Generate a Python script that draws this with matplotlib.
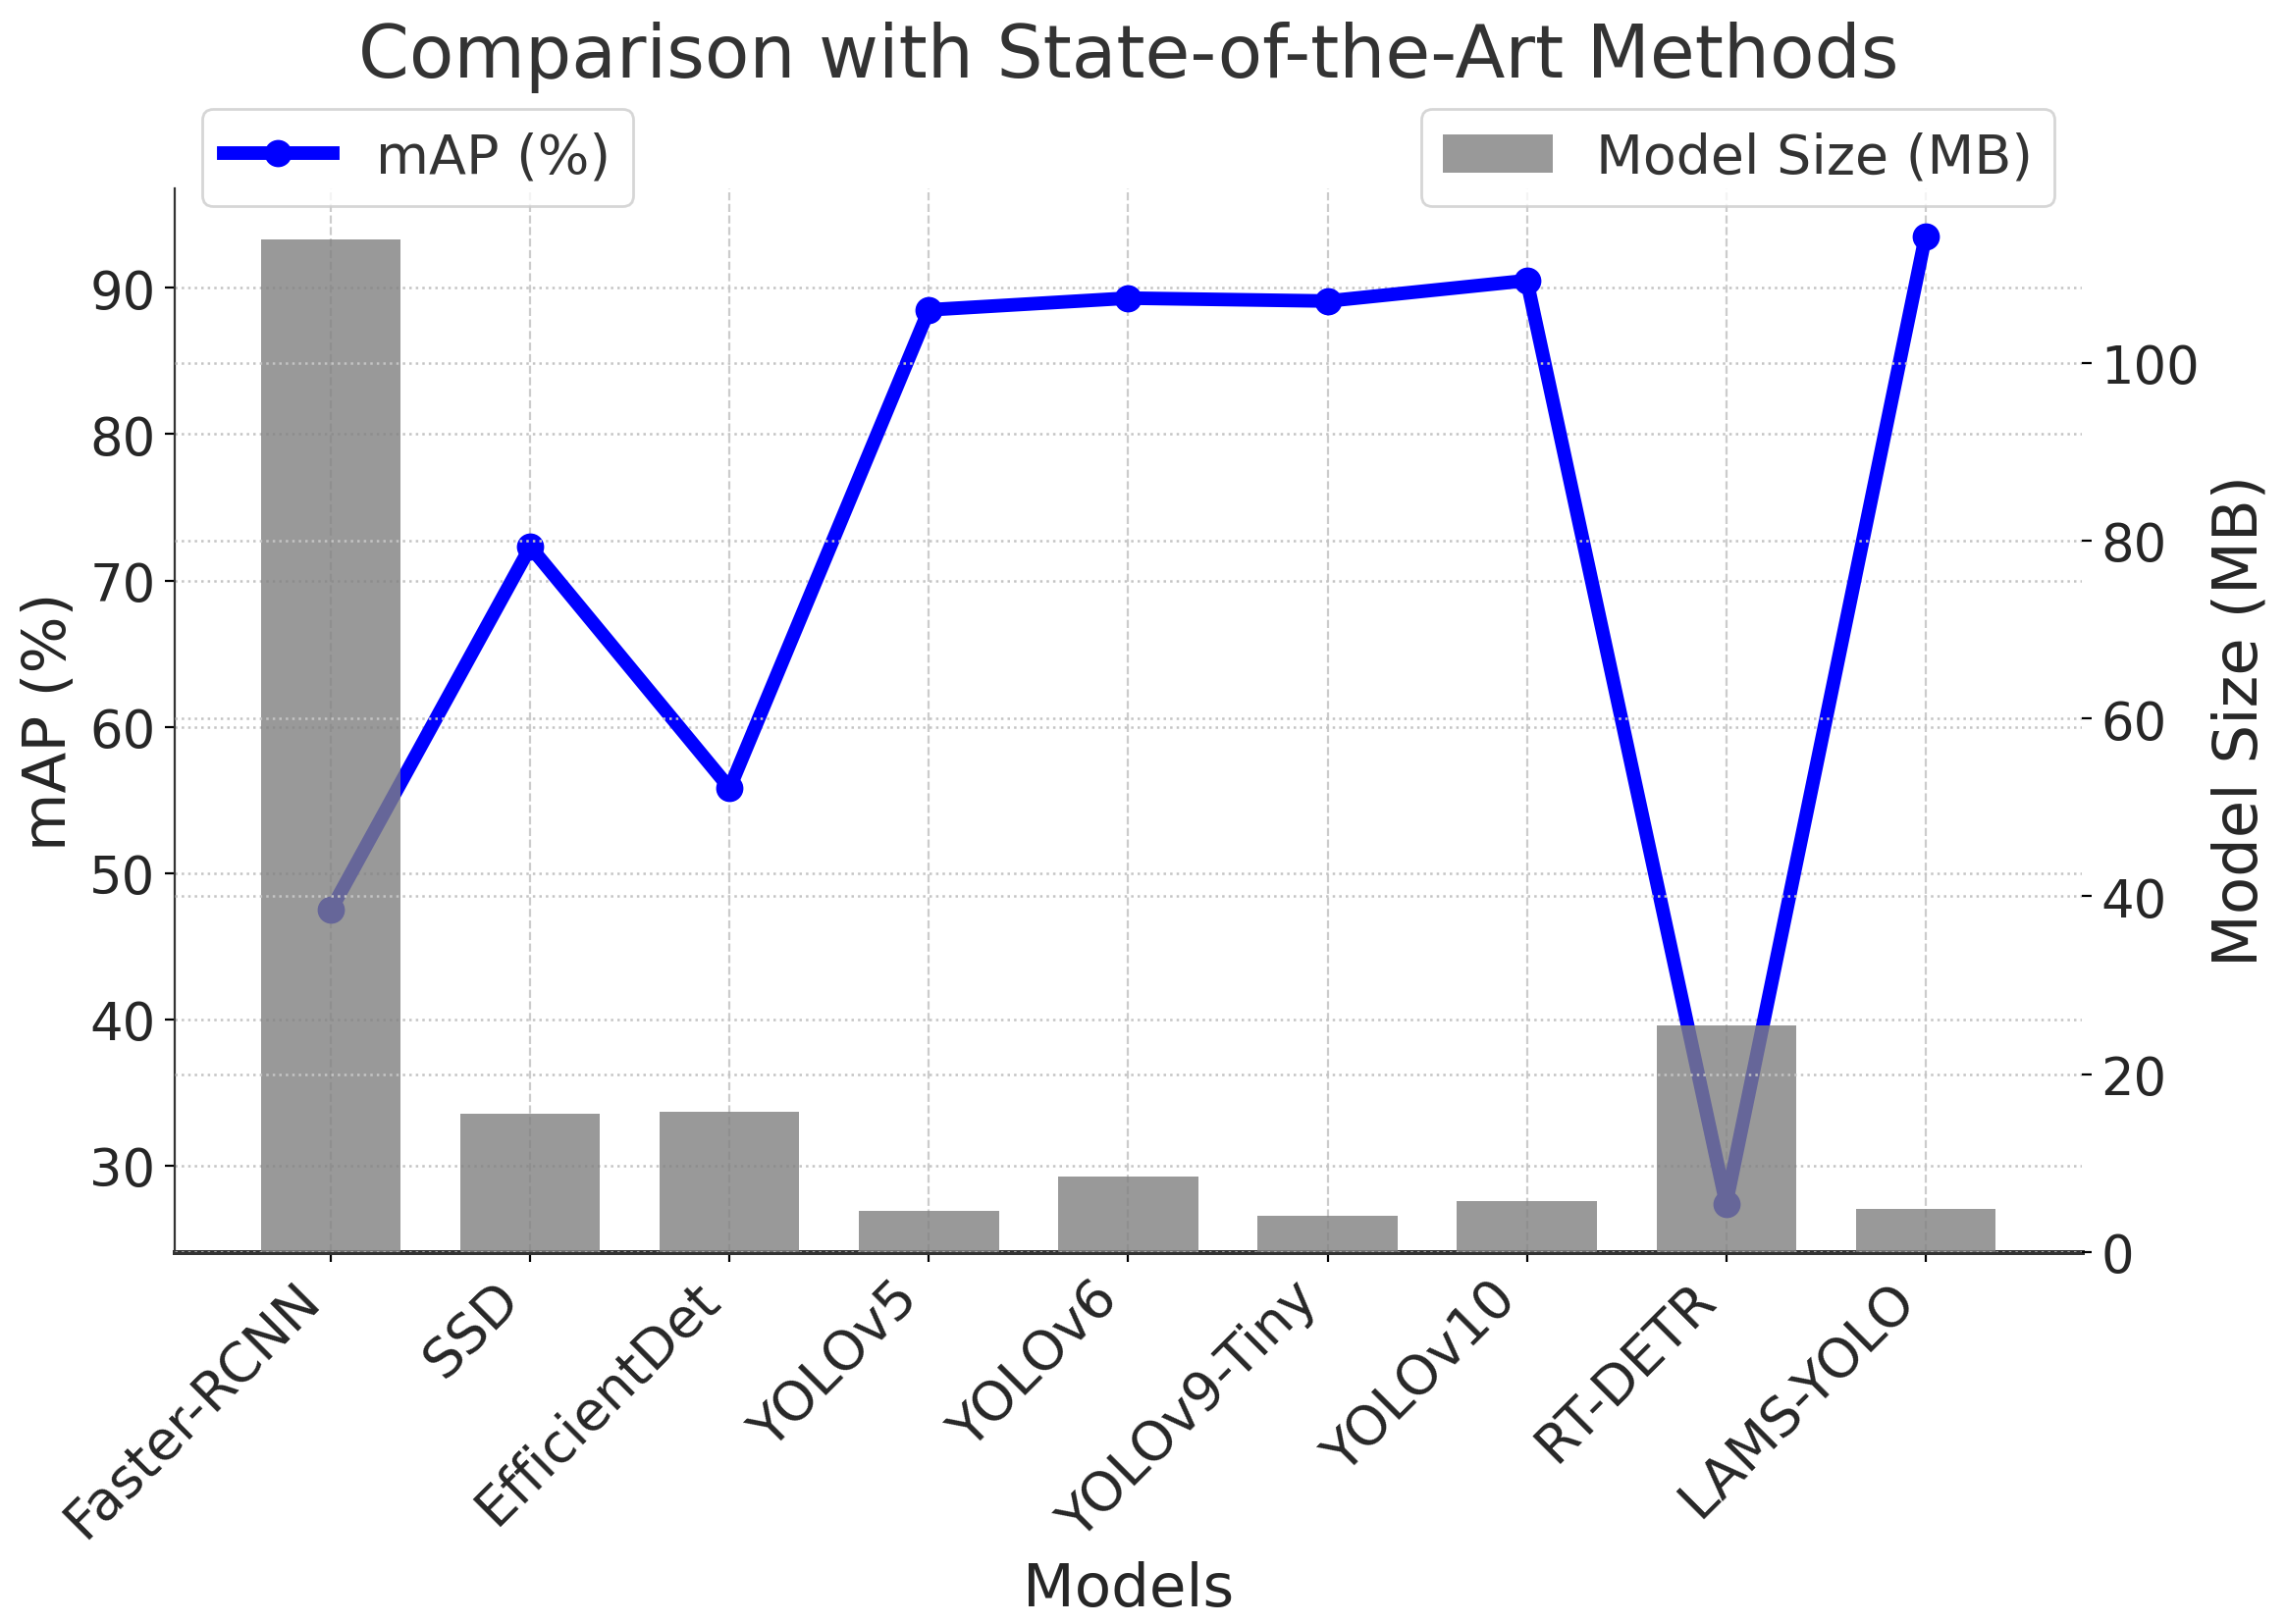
import numpy as np
import matplotlib
matplotlib.use('Agg')
import matplotlib.pyplot as plt

models = ['Faster-RCNN', 'SSD', 'EfficientDet', 'YOLOv5', 'YOLOv6',
          'YOLOv9-Tiny', 'YOLOv10', 'RT-DETR', 'LAMS-YOLO']
map_values = [47.5, 72.3, 55.8, 88.5, 89.3, 89.1, 90.5, 27.4, 93.5]
model_sizes = [113.9, 15.6, 15.8, 4.6, 8.5, 4.1, 5.7, 25.5, 4.9]

plt.rcParams['font.family'] = 'DejaVu Sans'
text_col = '#262626'

fig, ax1 = plt.subplots(figsize=(2329 / 200, 1656 / 200), dpi=200)
fig.subplots_adjust(left=0.0764, right=0.9107, top=0.8835, bottom=0.2289)

x = np.arange(len(models))

# mAP line on left axis
ax1.plot(x, map_values, color='blue', marker='o', linewidth=5, markersize=9,
         label='mAP (%)')
ax1.set_xlabel('Models', fontsize=22, color=text_col)
ax1.set_ylabel('mAP (%)', fontsize=22, color=text_col)
ax1.set_xticks(x)
ax1.set_xticklabels(models, rotation=45, ha='right', fontsize=20, color=text_col)
ax1.tick_params(axis='y', labelsize=19, labelcolor=text_col)
ax1.grid(True, axis='x', linestyle='--', color='#cccccc', linewidth=0.8)
ax1.grid(True, axis='y', linestyle=':', color='#c4c4c4', linewidth=0.9)

# model size bars on right axis, drawn over the line
ax2 = ax1.twinx()
ax2.bar(x, model_sizes, width=0.7, color='gray', alpha=0.8, label='Model Size (MB)')
ax2.set_ylabel('Model Size (MB)', fontsize=22.5, color=text_col)
ax2.tick_params(axis='y', labelsize=19, labelcolor=text_col)
ax2.grid(True, axis='y', linestyle=':', color='#c4c4c4', linewidth=0.9)

for ax in (ax1, ax2):
    ax.spines['top'].set_visible(False)
    ax.spines['right'].set_visible(False)
ax1.spines['bottom'].set_linewidth(1.8)
ax1.spines['bottom'].set_color('#333333')
ax1.spines['left'].set_color('#333333')
ax2.spines['left'].set_visible(False)
ax2.spines['bottom'].set_visible(False)

ax1.legend(loc='upper left', bbox_to_anchor=(0, 1.1), fontsize=20,
           labelcolor='#333333')
ax2.legend(loc='upper right', bbox_to_anchor=(1, 1.1), fontsize=20,
           labelcolor='#333333')

ax1.set_title('Comparison with State-of-the-Art Methods', fontsize=26.8,
              color='#333333', pad=41)

fig.savefig('out.png', dpi=200)
